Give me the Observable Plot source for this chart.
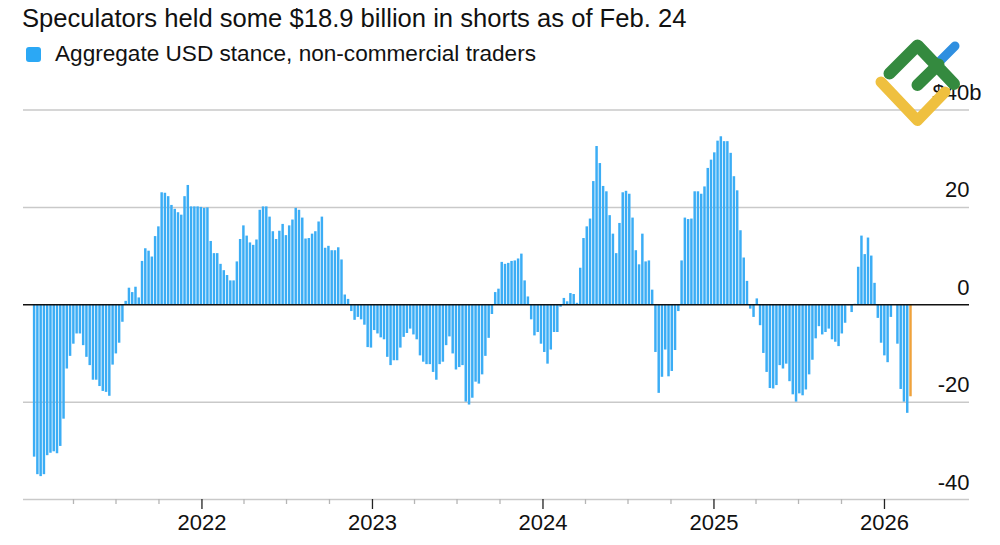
<!DOCTYPE html>
<html><head><meta charset="utf-8">
<script src="https://cdn.jsdelivr.net/npm/d3@7"></script>
<script src="https://cdn.jsdelivr.net/npm/@observablehq/plot@0.6"></script>
<style>
html,body{margin:0;padding:0;background:#fff;width:1000px;height:545px;overflow:hidden;font-family:"Liberation Sans",Arial,sans-serif;color:#111}
#wrap{position:relative;width:1000px;height:545px}
#title{height:38px;padding-left:22px;font-size:25.6px;line-height:36px;white-space:nowrap}
#legend{height:32px;display:flex;align-items:center;font-size:22.6px;line-height:32px;padding-left:26px;white-space:nowrap}
#legend i{display:block;width:15px;height:15px;border-radius:3px;background:#2ba8f5;margin-right:14px}
#logo{position:absolute;left:0;top:0;pointer-events:none}
svg{display:block}
</style></head><body><div id="wrap">
<div id="title">Speculators held some $18.9 billion in shorts as of Feb. 24</div>
<div id="legend"><i></i><span>Aggregate USD stance, non-commercial traders</span></div>
<div id="chart"></div>
<svg id="logo" width="1000" height="545" fill="none" stroke-linecap="round" stroke-linejoin="round">
<path d="M938 63L955 46" stroke="#2f8fe0" stroke-width="9"/>
<path d="M889.5 73.5L917.5 45.5L954 84M917.5 85L938.5 64.5" stroke="#348a3f" stroke-width="12"/>
<path d="M881 82L917.5 120.5L945 92" stroke="#efc03f" stroke-width="11"/>
</svg>
</div>
<script>
const stance2021=[-31.3,-34.9,-35.3,-34.9,-31,-30.5,-30.2,-30.6,-29.1,-23.5,-13.2,-10.6,-8.1,-6,-6,-8.4,-10.8,-12.5,-15.5,-15.5,-16.8,-17.8,-18,-18.8,-12.4,-10.1,-7.9,-3.6,0.7,3.4,2.5,3.6,1.4,8.9,11.5,11,9.8,14,16,23,22.9,22.2,20.4,19.6,18.9,18.4,22.2,24.5,20.1,20.1,20.1];
const stance2022=[20,19.8,19.9,13,10.5,10.5,8.3,7,6,4.9,4.9,8.8,13.4,16.2,14.1,12.7,12.2,13.3,19.4,20.1,20.1,18,15,13.4,15.1,16.5,14.2,16.2,17.4,19.8,19.4,17.8,13.5,13.6,14.5,15,17,18,11.6,12,11.1,11.1,11.7,9.2,2,1.1,-1.4,-3.2,-2.6,-3.1,-4.2,-8.8];
const stance2023=[-8.9,-5.3,-6,-6.8,-7.2,-10.8,-12.5,-11.5,-11.5,-8.9,-6.7,-5.9,-5,-6.2,-7.2,-10.5,-11.8,-12.3,-12.3,-13.9,-15.5,-12.3,-11.8,-8.4,-6.6,-10.1,-13.4,-12.9,-12.5,-20,-20.6,-19.2,-15.9,-16.3,-14.4,-10.6,-6.9,-2,2.5,3.2,8.7,8.3,8.5,8.9,9,9.4,10.4,4.9,1.6,-3.1,-6.4];
const stance2024=[-5.7,-8.1,-9.8,-12.2,-9.3,-5.7,-5.7,-0.5,1.3,0.6,2.3,2.1,0.3,7.5,13.6,16,17.6,25.3,32.5,29,24.3,23.2,18.3,14.5,10.5,16.7,23,23.3,22.7,17.8,11.1,8.2,14.5,8.8,9,3,-9.8,-18.2,-14.9,-9.3,-14.8,-13.7,-9.4,-1.4,9,17.8,17.5,17.6,23.2,23.2,22.7,24.2,28,29.7,31.2,33.6];
const stance2025=[34.5,33.5,33.5,31.1,26.3,23.4,15.2,9.6,4.8,-0.9,-2.6,1.2,-4.3,-10,-13.9,-17.2,-17.3,-16.6,-12.5,-13.2,-12.2,-15.8,-18.5,-20,-18.3,-18.7,-17.5,-14.4,-11.4,-7,-4.5,-6.2,-5.7,-5,-7.2,-7.7,-8.6,-6,-3.8,-0.2,-1.6,0.1,7.7,14.1,10.3,13.7,10,4.4,-2.8,-7.9,-10.5,-11.9,-2.6,0,-8.1,-17.4,-20,-22.3,-18.9];
const yTicks=[20,0,-20,-40];
const yLabels=["20","0","-20","-40"];
const topTick=[40];
const topLabel=["$40b"];
const yearTicks=["2022-01-01","2023-01-01","2024-01-01","2025-01-01","2026-01-01"];
const quarterMonths=["04-01","07-01","10-01"];
const lastDate=new Date("2026-02-24");
const all=[...stance2021,...stance2022,...stance2023,...stance2024,...stance2025];
const week=7*864e5;
const rows=all.map((value,i)=>({value,date:new Date(+lastDate-week*(all.length-1-i))}));
const halfWeek=week/2;
const years=yearTicks.map(d=>new Date(d));
const quarters=[2021,2022,2023,2024,2025].flatMap(y=>quarterMonths.map(m=>new Date(`${y}-${m}`)));
const barOpts={x1:d=>new Date(+d.date-halfWeek),x2:d=>new Date(+d.date+halfWeek),y:"value",insetLeft:.4,insetRight:.4,dx:1.3};
const chart=Plot.plot({
  width:1000,height:475,marginLeft:23,marginRight:31,marginTop:39.5,marginBottom:46,
  style:{fontFamily:'"Liberation Sans",Arial,sans-serif',fontSize:"22px",color:"#111",background:"transparent",overflow:"visible"},
  x:{type:"time",domain:[new Date("2020-12-15"),new Date("2026-07-02")],axis:null},
  y:{domain:[-40,40],axis:null},
  marks:[
    Plot.ruleY([...topTick,-20,20,-40],{stroke:"#c9c9c9",strokeWidth:1.5}),
    Plot.rectY(rows.slice(0,-1),{...barOpts,fill:"#3badf5"}),
    Plot.rectY(rows.slice(-1),{...barOpts,fill:"#efa23c"}),
    Plot.ruleY([0],{stroke:"#111",strokeWidth:1.6}),
    Plot.axisX({ticks:quarters,tickSize:5,tickFormat:()=>"",stroke:"#b5b5b5",strokeWidth:1.3}),
    Plot.axisX({ticks:years,tickSize:10,tickPadding:5,tickFormat:d3.utcFormat("%Y"),stroke:"#222",strokeWidth:1.3,fill:"#111",label:null}),
    Plot.text(yTicks,{y:d=>d,text:(d,i)=>yLabels[i],frameAnchor:"right",textAnchor:"end",dy:-17,fill:"#111",fontSize:22}),
    Plot.text(topTick,{y:d=>d,text:(d,i)=>topLabel[i],frameAnchor:"right",textAnchor:"end",dx:12,dy:-17,fill:"#111",fontSize:22})
  ]
});
document.getElementById("chart").appendChild(chart);
</script></body></html>
